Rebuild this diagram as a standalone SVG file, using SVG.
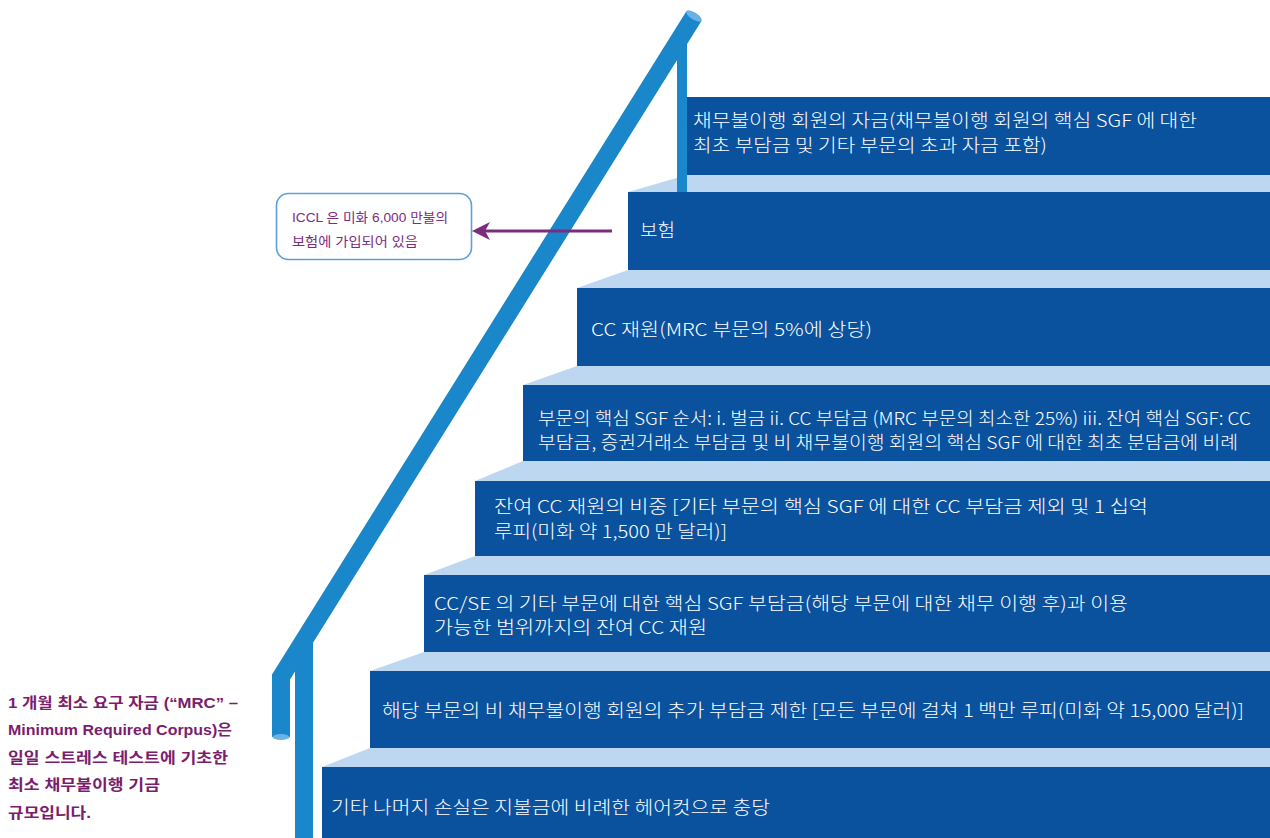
<svg xmlns="http://www.w3.org/2000/svg" width="1270" height="838" viewBox="0 0 1270 838">
<style>
.step{fill:#0a519e}
.band{fill:#bdd7f0}
.st{font-family:"Noto Sans CJK KR","Noto Sans",sans-serif;font-size:18px;font-weight:300;fill:#ffffff}
.rail{fill:none;stroke:#1a87ca;stroke-linejoin:miter}
.cap{fill:#6ab2e4}
.call{font-family:"Liberation Sans","Noto Sans CJK KR",sans-serif;font-size:13px;fill:#7d2b80}
.note{font-family:"Liberation Sans","Noto Sans CJK KR",sans-serif;font-size:15px;font-weight:bold;fill:#7b1d6d}
</style>
<defs>
<marker id="ah" markerUnits="userSpaceOnUse" markerWidth="18" markerHeight="18" viewBox="0 0 18 18" refX="14" refY="9" orient="auto">
<path d="M0,0 L18,9 L0,18 L5,9 Z" fill="#7b2c7c"/>
</marker>
</defs>
<rect width="1270" height="838" fill="#ffffff"/>

<g id="step1">
<rect class="step" x="687" y="97" width="583" height="78"/>
<text class="st" x="693" y="127" textLength="504" lengthAdjust="spacingAndGlyphs">채무불이행 회원의 자금(채무불이행 회원의 핵심 SGF 에 대한</text>
<text class="st" x="693" y="152" textLength="354" lengthAdjust="spacingAndGlyphs">최초 부담금 및 기타 부문의 초과 자금 포함)</text>
</g>
<g id="step2">
<polygon class="band" points="687,175 1270,175 1270,192 628,192"/>
<rect class="step" x="628" y="192" width="642" height="78"/>
<text class="st" x="640" y="237" textLength="35" lengthAdjust="spacingAndGlyphs">보험</text>
</g>
<g id="step3">
<polygon class="band" points="628,270 1270,270 1270,288 577,288"/>
<rect class="step" x="577" y="288" width="693" height="78"/>
<text class="st" x="591" y="336" textLength="281" lengthAdjust="spacingAndGlyphs">CC 재원(MRC 부문의 5%에 상당)</text>
</g>
<g id="step4">
<polygon class="band" points="577,366 1270,366 1270,385 523,385"/>
<rect class="step" x="523" y="385" width="747" height="76"/>
<text class="st" x="538" y="425" textLength="713" lengthAdjust="spacingAndGlyphs">부문의 핵심 SGF 순서: i. 벌금 ii. CC 부담금 (MRC 부문의 최소한 25%) iii. 잔여 핵심 SGF: CC</text>
<text class="st" x="538" y="449" textLength="700" lengthAdjust="spacingAndGlyphs">부담금, 증권거래소 부담금 및 비 채무불이행 회원의 핵심 SGF 에 대한 최초 분담금에 비례</text>
</g>
<g id="step5">
<polygon class="band" points="523,461 1270,461 1270,481 475,481"/>
<rect class="step" x="475" y="481" width="795" height="75"/>
<text class="st" x="494" y="513" textLength="654" lengthAdjust="spacingAndGlyphs">잔여 CC 재원의 비중 [기타 부문의 핵심 SGF 에 대한 CC 부담금 제외 및 1 십억</text>
<text class="st" x="494" y="538" textLength="233" lengthAdjust="spacingAndGlyphs">루피(미화 약 1,500 만 달러)]</text>
</g>
<g id="step6">
<polygon class="band" points="475,556 1270,556 1270,575 424,575"/>
<rect class="step" x="424" y="575" width="846" height="77"/>
<text class="st" x="434" y="610" textLength="694" lengthAdjust="spacingAndGlyphs">CC/SE 의 기타 부문에 대한 핵심 SGF 부담금(해당 부문에 대한 채무 이행 후)과 이용</text>
<text class="st" x="434" y="634" textLength="273" lengthAdjust="spacingAndGlyphs">가능한 범위까지의 잔여 CC 재원</text>
</g>
<g id="step7">
<polygon class="band" points="424,652 1270,652 1270,671 370,671"/>
<rect class="step" x="370" y="671" width="900" height="77"/>
<text class="st" x="382" y="717" textLength="862" lengthAdjust="spacingAndGlyphs">해당 부문의 비 채무불이행 회원의 추가 부담금 제한 [모든 부문에 걸쳐 1 백만 루피(미화 약 15,000 달러)]</text>
</g>
<g id="step8">
<polygon class="band" points="370,748 1270,748 1270,767 322,767"/>
<rect class="step" x="322" y="767" width="948" height="71"/>
<text class="st" x="331" y="814" textLength="439" lengthAdjust="spacingAndGlyphs">기타 나머지 손실은 지불금에 비례한 헤어컷으로 충당</text>
</g>

<g id="railing">
<line class="rail" x1="682" y1="35" x2="682" y2="192" stroke-width="10"/>
<line class="rail" x1="304" y1="640" x2="304" y2="838" stroke-width="18"/>
<path class="rail" d="M694,16 L281,677 L281,737" stroke-width="18"/>
<ellipse class="cap" cx="694" cy="16" rx="9" ry="3.5" transform="rotate(32 694 16)"/>
<ellipse class="cap" cx="281" cy="737" rx="8.5" ry="3"/>
</g>

<g id="callout">
<rect x="276.5" y="193.5" width="195" height="66" rx="12" ry="12" fill="#ffffff" stroke="#5b9fd8" stroke-width="1.6"/>
<text class="call" x="292" y="222" textLength="156" lengthAdjust="spacingAndGlyphs">ICCL 은 미화 6,000 만불의</text>
<text class="call" x="292" y="246" textLength="126" lengthAdjust="spacingAndGlyphs">보험에 가입되어 있음</text>
</g>

<g id="mrc-note">
<text class="note" x="8" y="708" textLength="230" lengthAdjust="spacingAndGlyphs">1 개월 최소 요구 자금 (“MRC” –</text>
<text class="note" x="8" y="735" textLength="224" lengthAdjust="spacingAndGlyphs">Minimum Required Corpus)은</text>
<text class="note" x="8" y="763" textLength="220" lengthAdjust="spacingAndGlyphs">일일 스트레스 테스트에 기초한</text>
<text class="note" x="8" y="790" textLength="152" lengthAdjust="spacingAndGlyphs">최소 채무불이행 기금</text>
<text class="note" x="8" y="818" textLength="83" lengthAdjust="spacingAndGlyphs">규모입니다.</text>
</g>

<g id="connectors">
<line x1="612" y1="231" x2="476" y2="231" stroke="#7b2c7c" stroke-width="3" marker-end="url(#ah)"/>
</g>
</svg>
